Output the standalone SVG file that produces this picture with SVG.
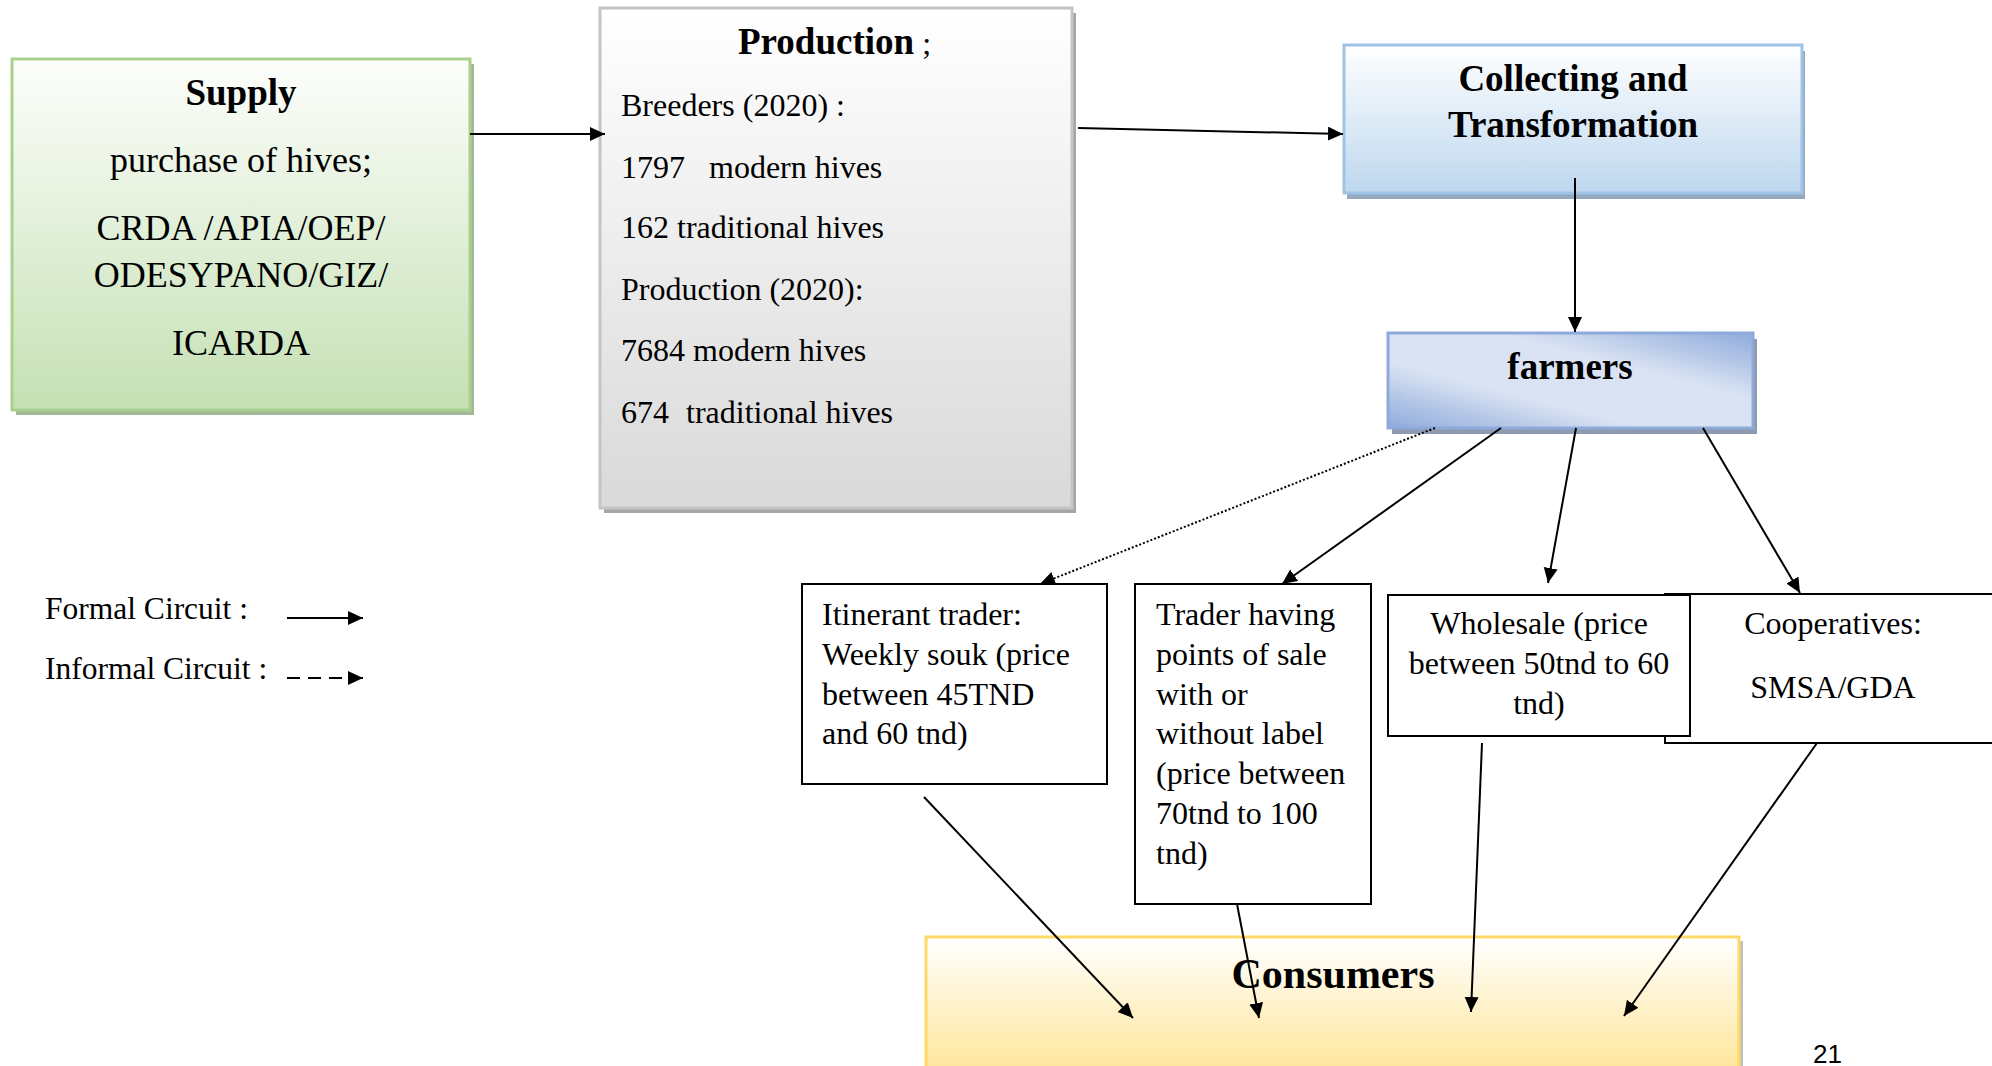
<svg xmlns="http://www.w3.org/2000/svg" width="1992" height="1066" viewBox="0 0 1992 1066">
<defs>
<linearGradient id="gGreen" x1="0" y1="0" x2="0" y2="1"><stop offset="0" stop-color="#fdfefc"/><stop offset="1" stop-color="#c5e0b4"/></linearGradient>
<linearGradient id="gGray" x1="0" y1="0" x2="0" y2="1"><stop offset="0" stop-color="#ffffff"/><stop offset="1" stop-color="#d9d9d9"/></linearGradient>
<linearGradient id="gBlue" x1="0" y1="0" x2="0" y2="1"><stop offset="0" stop-color="#ffffff"/><stop offset="1" stop-color="#bdd7ee"/></linearGradient>
<linearGradient id="gFarm" x1="0" y1="1" x2="1" y2="0"><stop offset="0" stop-color="#8eaadb"/><stop offset="0.35" stop-color="#dae3f3"/><stop offset="0.65" stop-color="#dae3f3"/><stop offset="1" stop-color="#8eaadb"/></linearGradient>
<linearGradient id="gYellow" x1="0" y1="0" x2="0" y2="1"><stop offset="0" stop-color="#ffffff"/><stop offset="1" stop-color="#ffe699"/></linearGradient>
<marker id="ah" markerUnits="userSpaceOnUse" markerWidth="16" markerHeight="16" refX="15" refY="7" orient="auto"><path d="M0,0 L15,7 L0,14 z" fill="#000"/></marker>
<style>
.t{font-family:"Liberation Serif","Times New Roman",serif;fill:#000}
.b{font-weight:bold}
.c{stroke:#000;stroke-width:2;fill:none}
.box{fill:#fff;stroke:#000;stroke-width:2}
</style>
</defs>

<g id="supply">
<rect x="16" y="64" width="458" height="351" fill="#a3b896"/>
<rect x="12" y="59" width="458" height="351" fill="url(#gGreen)" stroke="#a9d18e" stroke-width="3"/>
<text class="t b" x="241" y="105" font-size="37" text-anchor="middle">Supply</text>
<text class="t" x="241" y="172" font-size="36" text-anchor="middle">purchase of hives;</text>
<text class="t" x="241" y="240" font-size="36" text-anchor="middle">CRDA /APIA/OEP/</text>
<text class="t" x="241" y="287" font-size="36" text-anchor="middle">ODESYPANO/GIZ/</text>
<text class="t" x="241" y="355" font-size="36" text-anchor="middle">ICARDA</text>
</g>

<g id="production">
<rect x="604" y="13" width="472" height="500" fill="#a6a6a6"/>
<rect x="600" y="8" width="472" height="500" fill="url(#gGray)" stroke="#c4c4c4" stroke-width="3"/>
<text class="t" x="738" y="54" font-size="37"><tspan class="b">Production</tspan><tspan font-size="32"> ;</tspan></text>
<text class="t" x="621" y="116" font-size="32">Breeders (2020) :</text>
<text class="t" x="621" y="178" font-size="32">1797<tspan x="709">modern hives</tspan></text>
<text class="t" x="621" y="238" font-size="32">162 traditional hives</text>
<text class="t" x="621" y="300" font-size="32">Production (2020):</text>
<text class="t" x="621" y="361" font-size="32">7684 modern hives</text>
<text class="t" x="621" y="423" font-size="32">674<tspan x="686">traditional hives</tspan></text>
</g>

<g id="collecting">
<rect x="1347" y="51" width="458" height="148" fill="#94a8c0"/>
<rect x="1344" y="45" width="458" height="148" fill="url(#gBlue)" stroke="#9dc3e6" stroke-width="3"/>
<text class="t b" x="1573" y="91" font-size="37" text-anchor="middle">Collecting and</text>
<text class="t b" x="1573" y="137" font-size="37" text-anchor="middle">Transformation</text>
</g>

<g id="farmers">
<rect x="1392" y="339" width="365" height="95" fill="#8e9ab0"/>
<rect x="1388" y="333" width="365" height="95" fill="url(#gFarm)" stroke="#8eaadb" stroke-width="3"/>
<text class="t b" x="1570" y="379" font-size="37" text-anchor="middle">farmers</text>
</g>

<g id="itinerant">
<rect class="box" x="802" y="584" width="305" height="200"/>
<text class="t" font-size="32"><tspan x="822" y="625">Itinerant trader:</tspan><tspan x="822" y="665">Weekly souk (price</tspan><tspan x="822" y="705">between 45TND</tspan><tspan x="822" y="744">and 60 tnd)</tspan></text>
</g>

<g id="trader">
<rect class="box" x="1135" y="584" width="236" height="320"/>
<text class="t" font-size="32"><tspan x="1156" y="625">Trader having</tspan><tspan x="1156" y="665">points of sale</tspan><tspan x="1156" y="705">with or</tspan><tspan x="1156" y="744">without label</tspan><tspan x="1156" y="784">(price between</tspan><tspan x="1156" y="824">70tnd to 100</tspan><tspan x="1156" y="864">tnd)</tspan></text>
</g>

<g id="cooperatives">
<rect class="box" x="1665" y="594" width="340" height="149"/>
<text class="t" x="1833" y="634" font-size="32" text-anchor="middle">Cooperatives:</text>
<text class="t" x="1833" y="698" font-size="32" text-anchor="middle">SMSA/GDA</text>
</g>

<g id="wholesale">
<rect class="box" x="1388" y="595" width="302" height="141"/>
<text class="t" font-size="32" text-anchor="middle"><tspan x="1539" y="634">Wholesale (price</tspan><tspan x="1539" y="674">between 50tnd to 60</tspan><tspan x="1539" y="714">tnd)</tspan></text>
</g>

<g id="consumers">
<rect x="930" y="941" width="813" height="135" fill="#bfbfbf"/>
<rect x="926" y="937" width="813" height="135" fill="url(#gYellow)" stroke="#ffd966" stroke-width="3"/>
<text class="t b" x="1333" y="988" font-size="42" text-anchor="middle">Consumers</text>
</g>

<g id="legend">
<text class="t" x="45" y="619" font-size="31.5">Formal Circuit :</text>
<text class="t" x="45" y="679" font-size="31.5">Informal Circuit :</text>
<line class="c" x1="287" y1="618" x2="363" y2="618" marker-end="url(#ah)"/>
<line class="c" x1="287" y1="678" x2="363" y2="678" stroke-dasharray="13,8" marker-end="url(#ah)"/>
</g>

<g id="connectors">
<line class="c" x1="470" y1="134" x2="605" y2="134" marker-end="url(#ah)"/>
<line class="c" x1="1078" y1="128" x2="1343" y2="134" marker-end="url(#ah)"/>
<line class="c" x1="1575" y1="178" x2="1575" y2="332" marker-end="url(#ah)"/>
<line class="c" x1="1435" y1="428" x2="1040" y2="584" stroke-dasharray="2,2" marker-end="url(#ah)"/>
<line class="c" x1="1501" y1="428" x2="1282" y2="584" marker-end="url(#ah)"/>
<line class="c" x1="1576" y1="428" x2="1548" y2="583" marker-end="url(#ah)"/>
<line class="c" x1="1703" y1="428" x2="1800" y2="593" marker-end="url(#ah)"/>
<line class="c" x1="924" y1="797" x2="1133" y2="1018" marker-end="url(#ah)"/>
<line class="c" x1="1237" y1="904" x2="1259" y2="1018" marker-end="url(#ah)"/>
<line class="c" x1="1482" y1="743" x2="1471" y2="1012" marker-end="url(#ah)"/>
<line class="c" x1="1817" y1="743" x2="1624" y2="1016" marker-end="url(#ah)"/>
</g>

<text x="1813" y="1063" font-family="Liberation Sans, Arial, sans-serif" font-size="26" fill="#000">21</text>
</svg>
